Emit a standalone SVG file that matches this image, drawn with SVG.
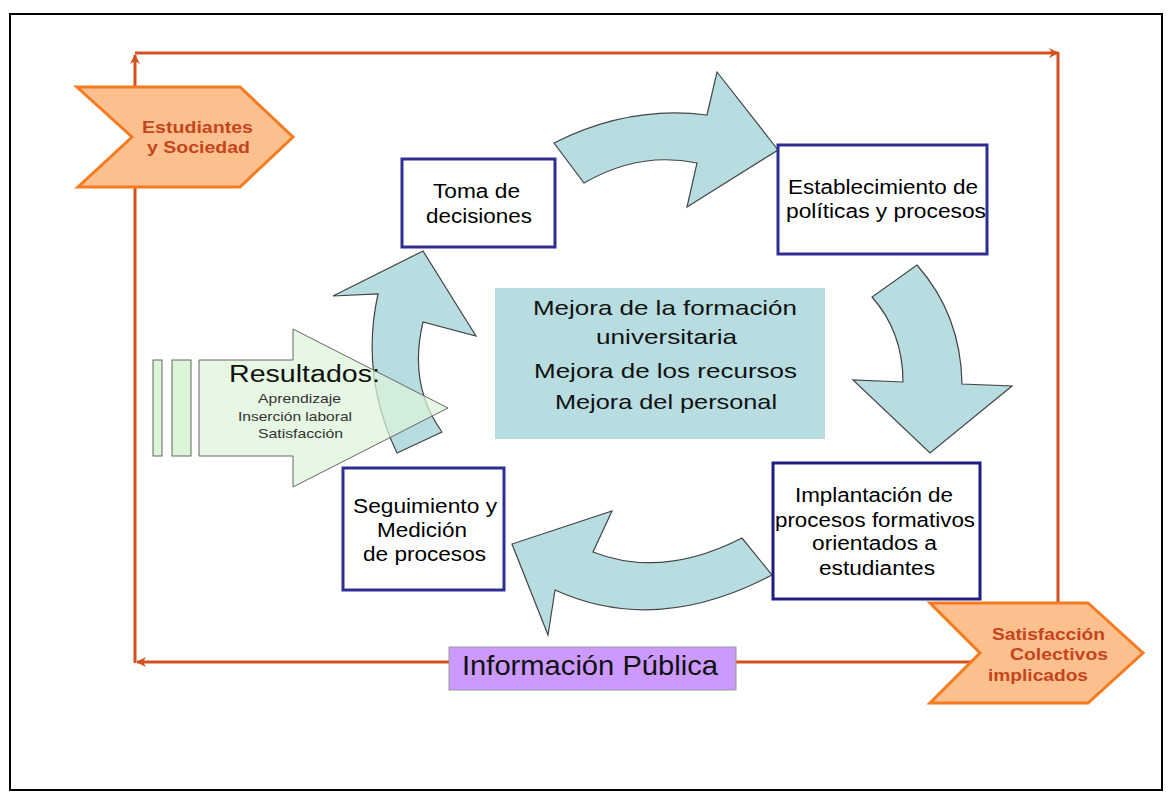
<svg xmlns="http://www.w3.org/2000/svg" width="1173" height="802" viewBox="0 0 1173 802">
<style>
text{font-family:"Liberation Sans",Arial,sans-serif;}
.box{fill:#fff;stroke:#2e2e92;stroke-width:3;}
.nt{font-size:20px;fill:#000;}
.mt{font-size:21px;fill:#111;}
.ot{font-size:16px;font-weight:bold;fill:#c4451c;}
.chev{fill:#fcc08f;stroke:#f47b20;stroke-width:3;stroke-linejoin:miter;}
.loop{fill:none;stroke:#d4501e;stroke-width:3;}
.cyc{fill:#b7dde1;stroke:#444;stroke-width:1.2;stroke-linejoin:miter;}
.sm{font-size:13px;fill:#333;}
.grn{fill:#dcf4d8;stroke:#666;stroke-width:1;}
</style>
<defs>
<marker id="ah" viewBox="0 0 10 10" refX="9" refY="5" markerWidth="10" markerHeight="10" markerUnits="userSpaceOnUse" orient="auto">
<path d="M0,0 L10,5 L0,10 L3,5 Z" fill="#d4501e"/>
</marker>
</defs>
<rect x="0" y="0" width="1173" height="802" fill="#fff"/>
<rect id="frame" x="10" y="14" width="1152" height="776" fill="none" stroke="#000" stroke-width="2"/>

<g id="connectors">
<path class="loop" d="M977,662 L137,662" marker-end="url(#ah)"/>
<path class="loop" d="M135,663 L135,55" marker-end="url(#ah)"/>
<path class="loop" d="M135,53 L1058,53" marker-end="url(#ah)"/>
<path class="loop" d="M1058,52 L1058,604"/>
<path id="arrow-top" class="cyc" d="M554,143 Q629,105 707,115 L717,72 L778,150 L687,207 L697,163 Q639,151 584,183 Z"/>
<path id="arrow-right" class="cyc" d="M917,265 Q961,315 962,384 L1012,386 L930,453 L853,380 L903,382 Q903,332 872,297 Z"/>
<path id="arrow-bottom" class="cyc" d="M742,538 Q662,579 593,552 L612,511 L512,544 L548,635 L555,590 Q656,636 772,575 Z"/>
<path id="arrow-left" class="cyc" d="M397,453 Q360,375 378,294 L333,296 L423,251 L476,336 L423,322 Q408,385 442,432 Z"/>
</g>

<g id="mejora">
<rect x="495" y="288" width="330" height="151" fill="#b7dde0"/>
<text class="mt" x="533" y="315" textLength="264" lengthAdjust="spacingAndGlyphs">Mejora de la formación</text>
<text class="mt" x="596" y="344" textLength="141" lengthAdjust="spacingAndGlyphs">universitaria</text>
<text class="mt" x="534" y="378" textLength="263" lengthAdjust="spacingAndGlyphs">Mejora de los recursos</text>
<text class="mt" x="555" y="409" textLength="222" lengthAdjust="spacingAndGlyphs">Mejora del personal</text>
</g>

<g id="toma">
<rect class="box" x="402" y="159" width="153" height="88"/>
<text class="nt" x="433" y="198" textLength="87" lengthAdjust="spacingAndGlyphs">Toma de</text>
<text class="nt" x="426" y="223" textLength="106" lengthAdjust="spacingAndGlyphs">decisiones</text>
</g>

<g id="establecimiento">
<rect class="box" x="778" y="145" width="209" height="109"/>
<text class="nt" x="788" y="194" textLength="190" lengthAdjust="spacingAndGlyphs">Establecimiento de</text>
<text class="nt" x="786" y="218" textLength="200" lengthAdjust="spacingAndGlyphs">políticas y procesos</text>
</g>

<g id="implantacion">
<rect class="box" x="773" y="463" width="207" height="136" style="stroke:#1e1e80"/>
<text class="nt" x="795" y="502" textLength="158" lengthAdjust="spacingAndGlyphs">Implantación de</text>
<text class="nt" x="775" y="527" textLength="200" lengthAdjust="spacingAndGlyphs">procesos formativos</text>
<text class="nt" x="812" y="550" textLength="125" lengthAdjust="spacingAndGlyphs">orientados a</text>
<text class="nt" x="819" y="575" textLength="116" lengthAdjust="spacingAndGlyphs">estudiantes</text>
</g>

<g id="seguimiento">
<rect class="box" x="343" y="468" width="161" height="122"/>
<text class="nt" x="353" y="513" textLength="144" lengthAdjust="spacingAndGlyphs">Seguimiento y</text>
<text class="nt" x="377" y="537" textLength="90" lengthAdjust="spacingAndGlyphs">Medición</text>
<text class="nt" x="363" y="561" textLength="123" lengthAdjust="spacingAndGlyphs">de procesos</text>
</g>

<g id="resultados">
<rect class="grn" x="153" y="360" width="9" height="96"/>
<rect class="grn" x="172" y="360" width="19" height="96"/>
<path class="grn" d="M199,360 L293,360 L293,329 L448,408 L293,487 L293,456 L199,456 Z" fill-opacity="0.72"/>
<text x="229" y="382" style="font-size:23px;fill:#111" textLength="151" lengthAdjust="spacingAndGlyphs">Resultados:</text>
<text class="sm" x="258" y="403" textLength="83" lengthAdjust="spacingAndGlyphs">Aprendizaje</text>
<text class="sm" x="238" y="421" textLength="114" lengthAdjust="spacingAndGlyphs">Inserción laboral</text>
<text class="sm" x="258" y="438" textLength="85" lengthAdjust="spacingAndGlyphs">Satisfacción</text>
</g>

<g id="estudiantes">
<polygon class="chev" points="77,87 240,87 293,137 240,187 78,187 132,137"/>
<text class="ot" x="142" y="133" textLength="111" lengthAdjust="spacingAndGlyphs">Estudiantes</text>
<text class="ot" x="147" y="153" textLength="103" lengthAdjust="spacingAndGlyphs">y Sociedad</text>
</g>

<g id="satisfaccion">
<polygon class="chev" points="930,603 1088,603 1143,653 1088,703 930,703 980,653"/>
<text class="ot" x="992" y="640" textLength="113" lengthAdjust="spacingAndGlyphs">Satisfacción</text>
<text class="ot" x="1010" y="660" textLength="98" lengthAdjust="spacingAndGlyphs">Colectivos</text>
<text class="ot" x="988" y="681" textLength="100" lengthAdjust="spacingAndGlyphs">implicados</text>
</g>

<g id="informacion">
<rect x="449" y="647" width="287" height="43" fill="#cc99ff" stroke="#999" stroke-width="1"/>
<text x="462" y="675" style="font-size:28px;fill:#111" textLength="256" lengthAdjust="spacingAndGlyphs">Información Pública</text>
</g>
</svg>
